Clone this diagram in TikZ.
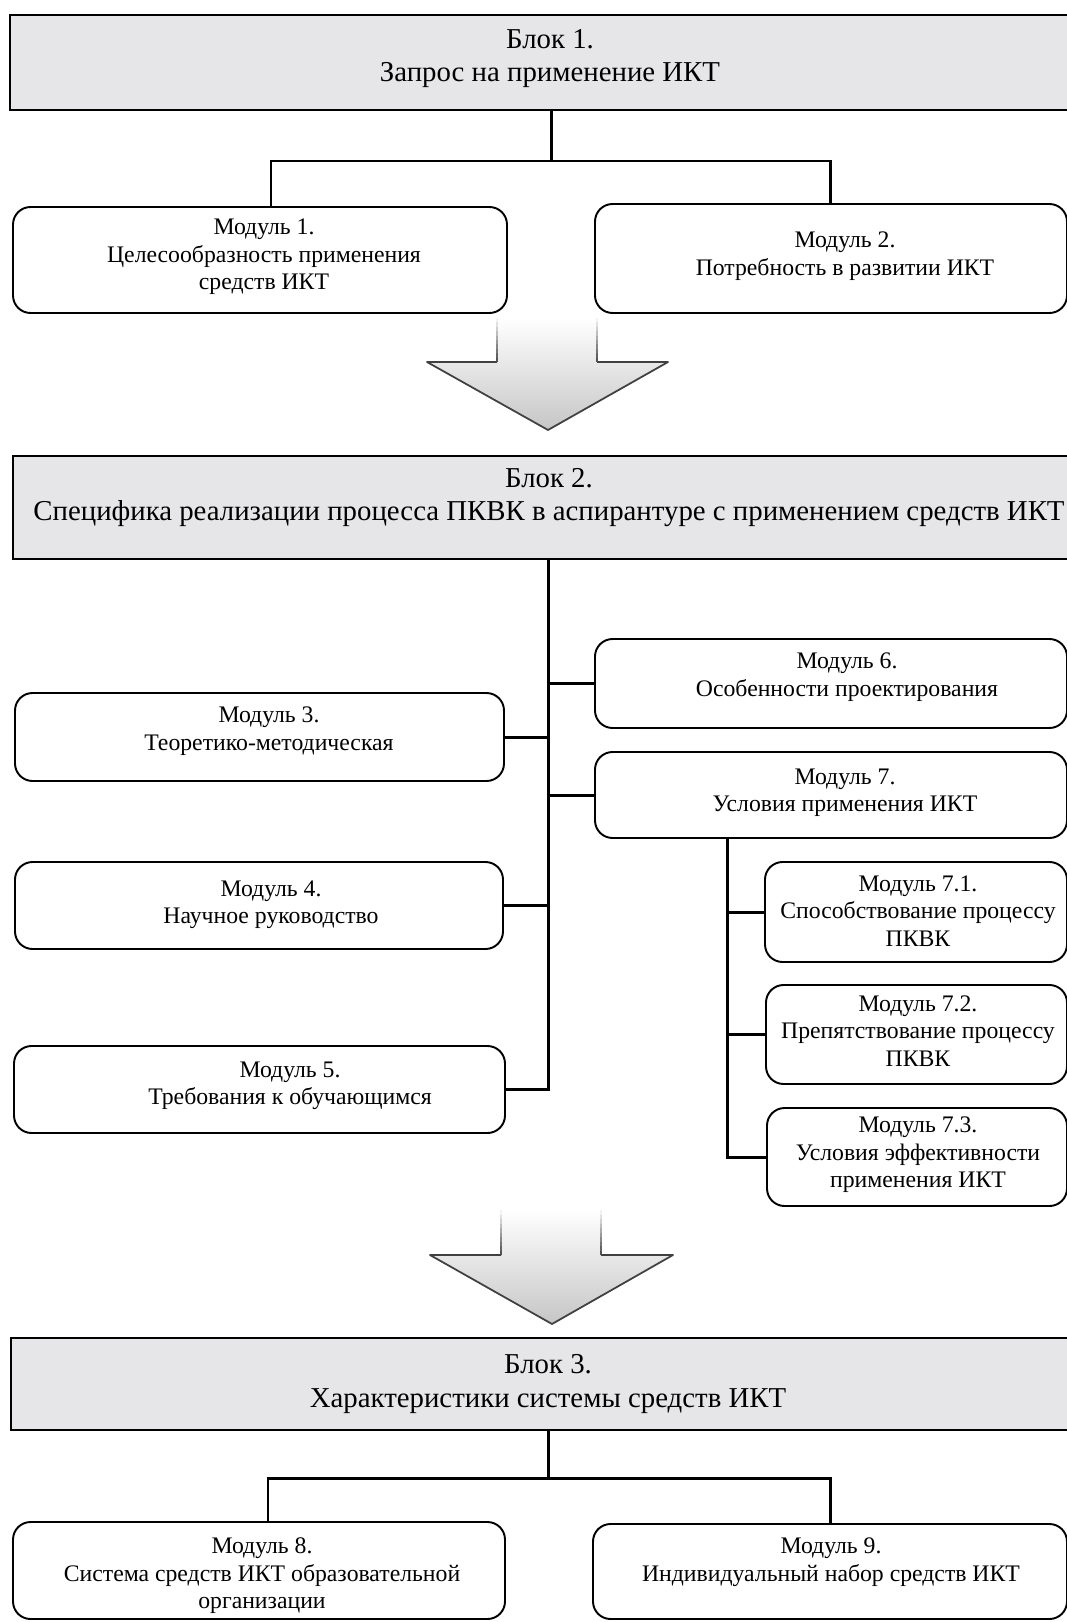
\documentclass[tikz,border=0pt]{standalone}
\usepackage{fontspec}
\setmainfont{Liberation Serif}
\usetikzlibrary{fit,calc}
\definecolor{blockgray}{RGB}{230,230,232}
\begin{document}
\begin{tikzpicture}[x=0.02cm,y=-0.02cm,
  blockbox/.style={draw=black, line width=1.6pt, fill=blockgray, inner sep=0pt},
  modbox/.style={draw=black, line width=1.1pt, rounded corners=10pt, inner sep=0pt},
  blocktext/.style={align=center, font=\fontsize{16.4}{18.8}\selectfont, inner sep=0pt},
  modtext/.style={align=center, font=\fontsize{13.5}{15.6}\selectfont, inner sep=0pt},
  conn/.style={draw=black, line width=1.7pt},
  arrowedge/.style={draw=black!75, line width=1pt, line join=round},
]
\useasboundingbox (0,0) rectangle (1067,1622);
\fill[white] (0,0) rectangle (1067,1622);

% ---------- Block 1 ----------
\node[blockbox, fit={(10,15)(1078,110)}] (b1) {};
\node[blocktext] (tb1) at (550,59) {Блок 1.\\Запрос на применение ИКТ};
\node[modbox, fit={(13,207)(507,313)}] (m1) {};
\node[modtext] (tm1) at (264,257) {Модуль 1.\\Целесообразность применения\\средств ИКТ};
\node[modbox, fit={(595,204)(1067,313)}] (m2) {};
\node[modtext] (tm2) at (845,256) {Модуль 2.\\Потребность в развитии ИКТ};
\coordinate (j1) at (551,161);
\coordinate (a1) at (271,161);
\coordinate (a2) at (830,161);
\draw[conn] (b1.south -| j1) -- (j1);
\draw[conn] (a1 |- m1.north) -- (a1) -- (a2) -- (a2 |- m2.north);

% ---------- Arrow 1 ----------
\fill[top color=white, bottom color=gray!45]
  (497,318) -- (497,362) -- (427,362) -- (548,430) -- (668,362) -- (597,362) -- (597,318) -- cycle;
\draw[arrowedge] (497,362) -- (427,362) -- (548,430) -- (668,362) -- (597,362);
\foreach \i in {0,...,9} {
  \pgfmathsetmacro\yA{318+\i*4.4}
  \pgfmathsetmacro\yB{\yA+4.6}
  \pgfmathtruncatemacro\cc{\i*7+5}
  \draw[draw=black!\cc, line width=1pt] (497,\yA) -- (497,\yB);
  \draw[draw=black!\cc, line width=1pt] (597,\yA) -- (597,\yB);
}

% ---------- Block 2 ----------
\node[blockbox, fit={(13,456)(1078,559)}] (b2) {};
\node[blocktext] (tb2) at (549,498) {Блок 2.\\Специфика реализации процесса ПКВК в аспирантуре с применением средств ИКТ};

\node[modbox, fit={(595,639)(1067,728)}] (m6) {};
\node[modtext] (tm6) at (847,677) {Модуль 6.\\Особенности проектирования};
\node[modbox, fit={(15,693)(504,781)}] (m3) {};
\node[modtext] (tm3) at (269,731) {Модуль 3.\\Теоретико-методическая};
\node[modbox, fit={(595,752)(1067,838)}] (m7) {};
\node[modtext] (tm7) at (845,793) {Модуль 7.\\Условия применения ИКТ};
\node[modbox, fit={(15,862)(503,949)}] (m4) {};
\node[modtext] (tm4) at (271,905) {Модуль 4.\\Научное руководство};
\node[modbox, fit={(14,1046)(505,1133)}] (m5) {};
\node[modtext] (tm5) at (290,1086) {Модуль 5.\\Требования к обучающимся};

\node[modbox, fit={(765,862)(1067,962)}] (m71) {};
\node[modtext] (tm71) at (918,911) {Модуль 7.1.\\Способствование процессу\\ПКВК};
\node[modbox, fit={(766,985)(1067,1084)}] (m72) {};
\node[modtext] (tm72) at (918,1031) {Модуль 7.2.\\Препятствование процессу\\ПКВК};
\node[modbox, fit={(767,1108)(1067,1206)}] (m73) {};
\node[modtext] (tm73) at (918,1155) {Модуль 7.3.\\Условия эффективности\\применения ИКТ};

\coordinate (t2) at (548,1090);
\draw[conn] (b2.south -| t2) -- (t2 |- m5.east) -- (m5.east);
\draw[conn] (m3.east) -- (m3.east -| t2);
\draw[conn] (m4.east) -- (m4.east -| t2);
\draw[conn] (m6.west) -- (m6.west -| t2);
\draw[conn] (m7.west) -- (m7.west -| t2);
\coordinate (t7) at (727,1000);
\draw[conn] (m7.south -| t7) -- (t7 |- m73.west) -- (m73.west);
\draw[conn] (m71.west) -- (m71.west -| t7);
\draw[conn] (m72.west) -- (m72.west -| t7);

% ---------- Arrow 2 ----------
\fill[top color=white, bottom color=gray!45]
  (501,1210) -- (501,1255) -- (430,1255) -- (552,1324) -- (673,1255) -- (601,1255) -- (601,1210) -- cycle;
\draw[arrowedge] (501,1255) -- (430,1255) -- (552,1324) -- (673,1255) -- (601,1255);
\foreach \i in {0,...,9} {
  \pgfmathsetmacro\yA{1210+\i*4.5}
  \pgfmathsetmacro\yB{\yA+4.7}
  \pgfmathtruncatemacro\cc{\i*7+5}
  \draw[draw=black!\cc, line width=1pt] (501,\yA) -- (501,\yB);
  \draw[draw=black!\cc, line width=1pt] (601,\yA) -- (601,\yB);
}

% ---------- Block 3 ----------
\node[blockbox, fit={(11,1338)(1078,1430)}] (b3) {};
\node[blocktext] (tb3) at (548,1384) {Блок 3.\\Характеристики системы средств ИКТ};
\node[modbox, fit={(13,1522)(505,1619)}] (m8) {};
\node[modtext] (tm8) at (262,1576) {Модуль 8.\\Система средств ИКТ образовательной\\организации};
\node[modbox, fit={(593,1524)(1067,1619)}] (m9) {};
\node[modtext] (tm9) at (831,1562) {Модуль 9.\\Индивидуальный набор средств ИКТ};
\coordinate (j3) at (548,1478);
\coordinate (a8) at (268,1478);
\coordinate (a9) at (830,1478);
\draw[conn] (b3.south -| j3) -- (j3);
\draw[conn] (a8 |- m8.north) -- (a8) -- (a9) -- (a9 |- m9.north);
\end{tikzpicture}
\end{document}
